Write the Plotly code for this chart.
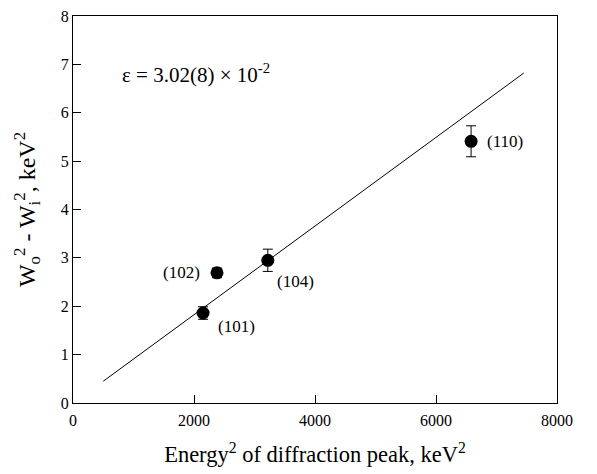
import plotly.graph_objects as go

labels = ["(101)", "(102)", "(104)", "(110)"]
energy_sq = [2150, 2380, 3220, 6580]
width_diff = [1.86, 2.69, 2.95, 5.41]
err = [0.13, 0.10, 0.23, 0.32]
fit_x = [500, 7450]
fit_y = [0.45, 6.82]

font = "Liberation Serif, Times New Roman, serif"

fig = go.Figure()
fig.add_trace(go.Scatter(x=fit_x, y=fit_y, mode="lines",
                         line=dict(color="black", width=1), showlegend=False))
fig.add_trace(go.Scatter(x=energy_sq, y=width_diff, mode="markers",
                         marker=dict(color="black", size=13),
                         error_y=dict(type="data", array=err, color="black",
                                      thickness=1, width=5),
                         showlegend=False))

offsets = {"(101)": (33, -13), "(102)": (-35, 0), "(104)": (28, -21), "(110)": (34, 0)}
for lab, x, y in zip(labels, energy_sq, width_diff):
    ax, ay = offsets[lab]
    fig.add_annotation(x=x, y=y, text=lab, showarrow=False, xshift=ax, yshift=ay,
                       font=dict(family=font, size=17, color="black"))

fig.add_annotation(x=770, y=6.82, xanchor="left", text="ε = 3.02(8) × 10<sup>-2</sup>",
                   showarrow=False, font=dict(family=font, size=21, color="black"))

fig.update_layout(
    width=597, height=474,
    margin=dict(l=73, r=40, t=16, b=71),
    plot_bgcolor="white", paper_bgcolor="white",
    font=dict(family=font, size=16, color="black"),
)
fig.update_xaxes(range=[0, 8000], tickvals=[0, 2000, 4000, 6000, 8000],
                 ticks="inside", ticklen=8, tickcolor="black", showgrid=False,
                 zeroline=False, showline=True, linecolor="black", linewidth=1, mirror=True,
                 automargin=False, ticklabelstandoff=3,
                 title=dict(text="Energy<sup>2</sup> of diffraction peak, keV<sup>2</sup>",
                            font=dict(size=22.5), standoff=18))
fig.update_yaxes(range=[0, 8], tickvals=list(range(0, 9)),
                 ticks="inside", ticklen=8, tickcolor="black", showgrid=False,
                 zeroline=False, showline=True, linecolor="black", linewidth=1, mirror=True,
                 automargin=False,
                 title=dict(text="W<sub>o</sub><sup>2</sup> - W<sub>i</sub><sup>2</sup>, keV<sup>2</sup>",
                            font=dict(size=24), standoff=18))

fig.write_html("out.html", config={"displayModeBar": False},
               post_script="document.body.style.margin='0';")
